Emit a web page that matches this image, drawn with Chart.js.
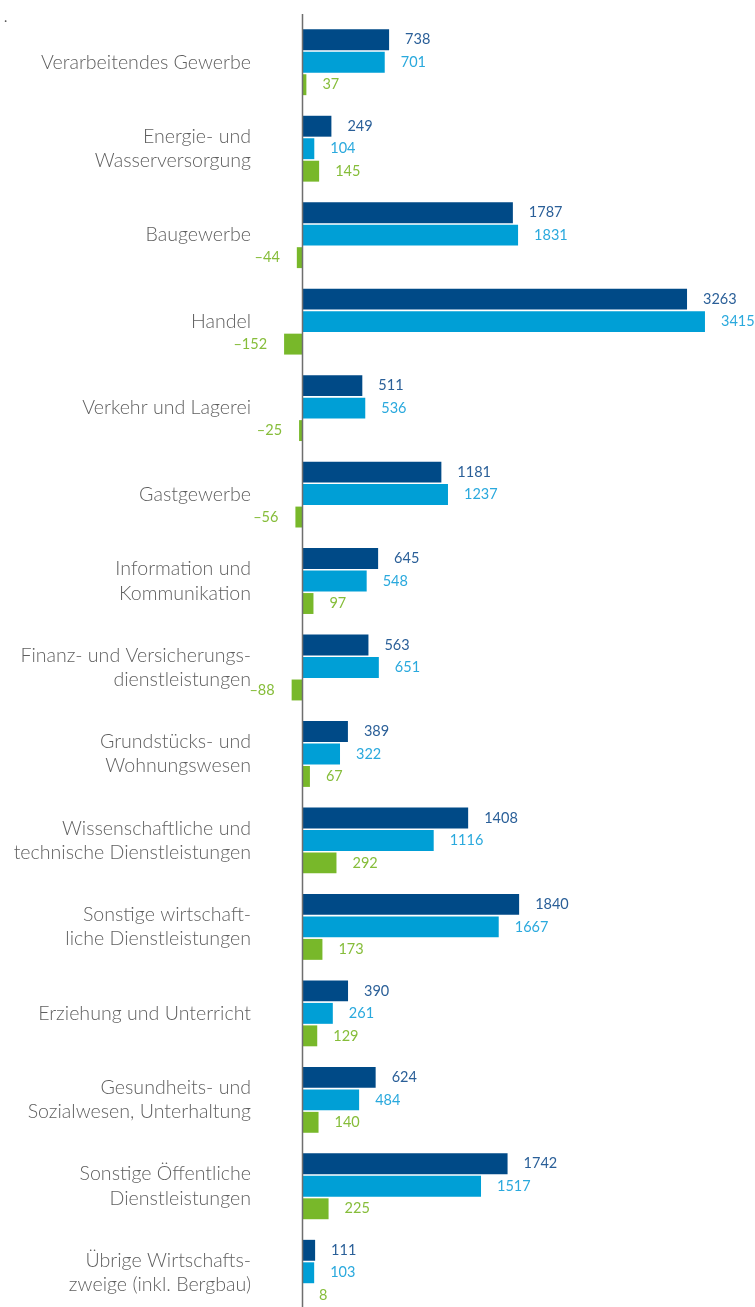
<!DOCTYPE html>
<html>
<head>
<meta charset="utf-8">
<script src="https://cdn.jsdelivr.net/npm/chart.js@4"></script>
<style>
  html, body { margin: 0; padding: 0; background: #fff; overflow: hidden; }
  .wrap { position: relative; width: 755px; height: 1320px; }
  .dot { position: absolute; left: 4px; top: 8px; font: 14px Lato, sans-serif; color: #555; }
</style>
</head>
<body>
<div class="wrap">
  <div class="dot">.</div>
  <canvas id="chart"></canvas>
</div>
<script>
const categories = [
    'Verarbeitendes Gewerbe',
    ['Energie- und', 'Wasserversorgung'],
    'Baugewerbe',
    'Handel',
    'Verkehr und Lagerei',
    'Gastgewerbe',
    ['Information und', 'Kommunikation'],
    ['Finanz- und Versicherungs-', 'dienstleistungen'],
    ['Grundstücks- und', 'Wohnungswesen'],
    ['Wissenschaftliche und', 'technische Dienstleistungen'],
    ['Sonstige wirtschaft-', 'liche Dienstleistungen'],
    'Erziehung und Unterricht',
    ['Gesundheits- und', 'Sozialwesen, Unterhaltung'],
    ['Sonstige Öffentliche', 'Dienstleistungen'],
    ['Übrige Wirtschafts-', 'zweige (inkl. Bergbau)']
];
const darkValues = [738, 249, 1787, 3263, 511, 1181, 645, 563, 389, 1408, 1840, 390, 624, 1742, 111];
const lightValues = [701, 104, 1831, 3415, 536, 1237, 548, 651, 322, 1116, 1667, 261, 484, 1517, 103];
const greenValues = [37, 145, -44, -152, -25, -56, 97, -88, 67, 292, 173, 129, 140, 225, 8];

const labelColors = ['#2a5f98', '#2aa9dd', '#86bd3a'];

// value labels next to the bar ends
const valueLabels = {
    id: 'valueLabels',
    afterDatasetsDraw(chart) {
        const ctx = chart.ctx;
        ctx.save();
        ctx.font = '14.5px Lato, sans-serif';
        ctx.textBaseline = 'middle';
        chart.data.datasets.forEach(function (ds, i) {
            const meta = chart.getDatasetMeta(i);
            meta.data.forEach(function (bar, j) {
                const v = ds.data[j];
                ctx.fillStyle = labelColors[i];
                if (v >= 0) {
                    ctx.textAlign = 'left';
                    ctx.fillText(String(v), bar.x + 16, bar.y);
                } else {
                    ctx.textAlign = 'right';
                    ctx.fillText('\u2013' + Math.abs(v), bar.x - 17, bar.y);
                }
            });
        });
        ctx.restore();
    }
};

// vertical zero line
const zeroLine = {
    id: 'zeroLine',
    afterDatasetsDraw(chart) {
        const ctx = chart.ctx;
        const x = Math.round(chart.scales.x.getPixelForValue(0)) + 0.5;
        ctx.save();
        ctx.strokeStyle = '#6e6e6e';
        ctx.lineWidth = 1.5;
        ctx.beginPath();
        ctx.moveTo(x, 14);
        ctx.lineTo(x, chart.height);
        ctx.stroke();
        ctx.restore();
    }
};

const data = {
    labels: categories,
    datasets: [{
        data: darkValues,
        backgroundColor: '#004a87'
    }, {
        data: lightValues,
        backgroundColor: '#009fd6'
    }, {
        data: greenValues,
        backgroundColor: '#78b82a'
    }]
};

const config = {
    type: 'bar',
    data: data,
    options: {
        indexAxis: 'y',
        responsive: true,
        maintainAspectRatio: false,
        animation: false,
        categoryPercentage: 0.78,
        barPercentage: 0.93,
        layout: {
            padding: { top: 19, bottom: 4, left: 0, right: 0 }
        },
        plugins: {
            legend: { display: false },
            tooltip: { enabled: false }
        },
        scales: {
            x: {
                display: false,
                min: -390,
                max: 3839
            },
            y: {
                grid: { display: false, drawTicks: false },
                border: { display: false },
                afterFit: function (scale) {
                    scale.width = 256;
                    scale.paddingTop = 0;
                    scale.paddingBottom = 0;
                },
                ticks: {
                    padding: 5,
                    color: '#5f5f5f',
                    font: { family: 'Lato', size: 19.6, weight: '300', lineHeight: 1.24 }
                }
            }
        }
    },
    plugins: [valueLabels, zeroLine]
};

let chart = new Chart(document.getElementById('chart'), config);
</script>
</body>
</html>
